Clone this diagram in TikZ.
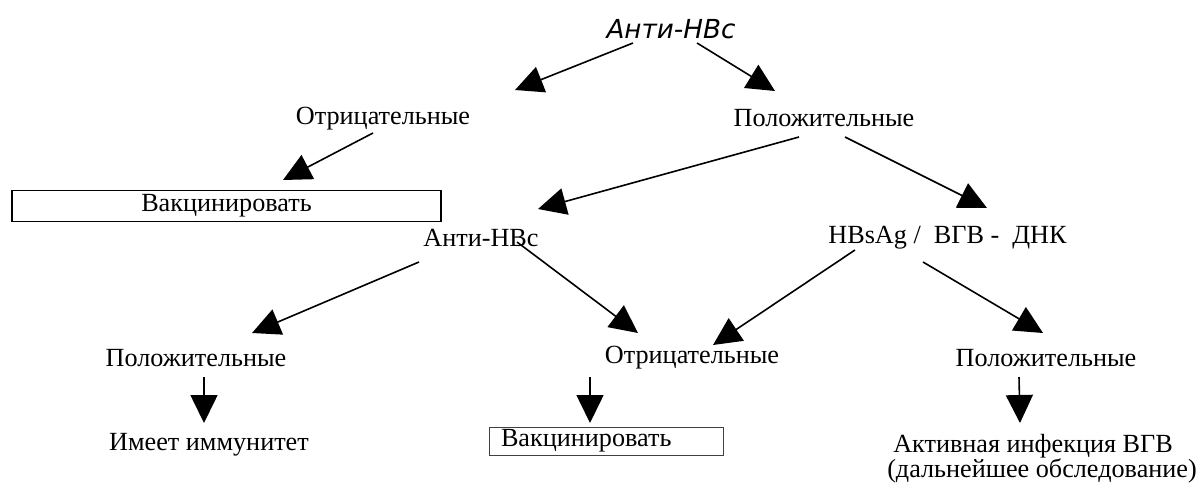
\documentclass[tikz,border=0pt]{standalone}
\usepackage{fontspec}
\setmainfont{Liberation Serif}
\newfontfamily\dejavu{DejaVu Sans}
\usetikzlibrary{arrows.meta,calc}
\begin{document}
\begin{tikzpicture}[x=1pt,y=-1pt,
  lbl/.style={inner sep=0pt, font=\fontsize{26.2}{24}\selectfont},
  boxnode/.style={lbl, draw, line width=1.4pt},
  arr/.style={line width=1.6pt, -{Triangle[length=28pt,width=27pt]}}]
\useasboundingbox (0,0) rectangle (1198,485);
% nodes
\node[lbl, font=\fontsize{26.2}{24}\selectfont\dejavu\itshape] (A0) at (671,29) {Анти-HBc};
\node[lbl] (O1) at (383,119) {Отрицательные};
\node[lbl] (P1) at (824,118) {Положительные};
\node[boxnode, minimum width=429pt, minimum height=31pt] (B1) at (226.5,206) {Вакцинировать};
\node[lbl] (A1) at (481,238) {Анти-HBc};
\node[lbl] (H) at (947.5,238) {HBsAg /\ \ ВГВ -\ \ ДНК};
\node[lbl] (P2) at (196,358) {Положительные};
\node[lbl] (O2) at (692,358) {Отрицательные};
\node[lbl] (P3) at (1046,358) {Положительные};
\node[lbl] (I) at (209,445) {Имеет иммунитет};
\node[boxnode, line width=1pt, draw=black!75, inner xsep=12pt, text width=210pt, align=left, minimum height=28pt] (B2) at (606,441) {Вакцинировать};
\node[lbl, align=center] (AI) at (1033,459) {Активная инфекция ВГВ\\\hspace*{18pt}(дальнейшее обследование)};
% connectors
\draw[arr] ($(A0)+(-38,14)$) -- ($(O1)+(132,-29)$);
\draw[arr] ($(A0)+(26,14)$) -- ($(P1)+(-49,-27)$);
\draw[arr] ($(O1)+(-10,14)$) -- ($(B1)+(56.5,-26)$);
\draw[arr] ($(P1)+(-25,19)$) -- ($(A1)+(57,-29)$);
\draw[arr] ($(P1)+(21,19)$) -- ($(H)+(39.5,-30)$);
\draw[arr] ($(A1)+(-62,24)$) -- ($(P2)+(56,-25)$);
\draw[arr] ($(A1)+(36,4)$) -- ($(O2)+(-54,-25)$);
\draw[arr] ($(H)+(-92.5,12)$) -- ($(O2)+(21,-13)$);
\draw[arr] ($(H)+(-24.5,24)$) -- ($(P3)+(-3,-25)$);
\draw[arr] ($(P2)+(8,19)$) -- ($(I)+(-5,-22)$);
\draw[arr] ($(O2)+(-102,19)$) -- ($(B2)+(-16,-18)$);
\draw[arr] ($(P3)+(-27,19)$) -- ($(AI)+(-13,-36)$);
\end{tikzpicture}
\end{document}
